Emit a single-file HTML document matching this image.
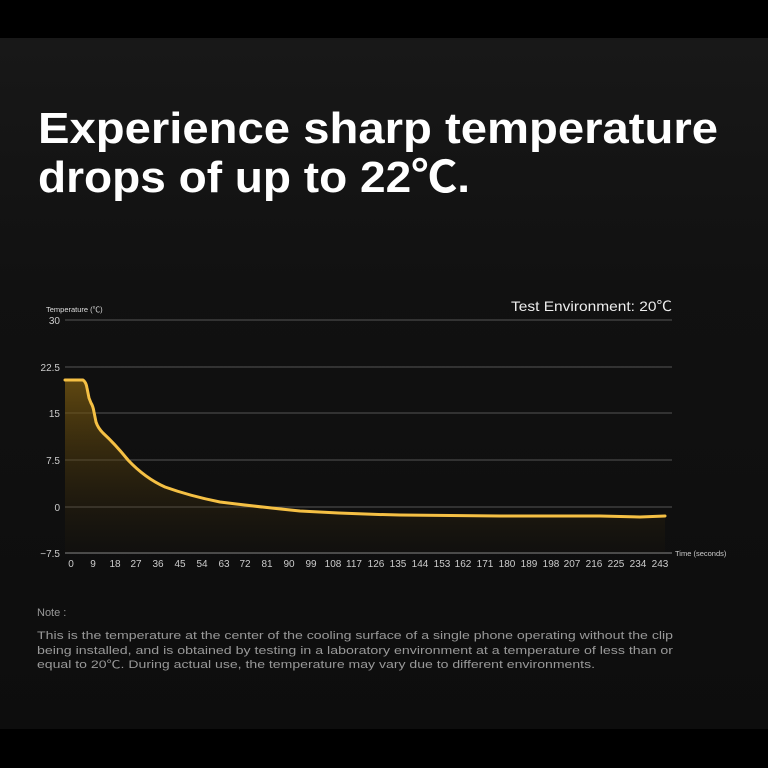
<!DOCTYPE html>
<html><head><meta charset="utf-8"><style>
html,body{margin:0;padding:0;background:#000}
svg{display:block}
text{font-family:"Liberation Sans","Noto Sans CJK SC",sans-serif}
</style></head><body>
<svg width="768" height="768" viewBox="0 0 768 768" xmlns="http://www.w3.org/2000/svg">
<defs>
<linearGradient id="bg" x1="0" y1="0" x2="0" y2="1">
<stop offset="0" stop-color="#181818"/><stop offset="0.35" stop-color="#111"/><stop offset="1" stop-color="#0d0d0d"/>
</linearGradient>
<linearGradient id="fill" x1="0" y1="0" x2="0" y2="1">
<stop offset="0" stop-color="#7a5a10" stop-opacity="0.75"/><stop offset="1" stop-color="#3a2a08" stop-opacity="0.05"/>
</linearGradient>
</defs>
<rect width="768" height="768" fill="#000"/>
<rect y="38" width="768" height="691" fill="url(#bg)"/>
<text x="38" y="143" font-size="44" font-weight="bold" fill="#fff" textLength="680" lengthAdjust="spacingAndGlyphs">Experience sharp temperature</text>
<text x="38" y="192" font-size="44" font-weight="bold" fill="#fff" textLength="432" lengthAdjust="spacingAndGlyphs">drops of up to 22℃.</text>
<text x="511" y="311" font-size="14" fill="#eee" textLength="161" lengthAdjust="spacingAndGlyphs">Test Environment:  20℃</text>
<text x="46" y="312" font-size="7.5" fill="#ddd">Temperature (℃)</text>
<g stroke="#555" stroke-width="1">
<line x1="65" y1="320" x2="672" y2="320"/><line x1="65" y1="367" x2="672" y2="367"/>
<line x1="65" y1="413" x2="672" y2="413"/><line x1="65" y1="460" x2="672" y2="460"/>
<line x1="65" y1="507" x2="672" y2="507"/><line x1="65" y1="553" x2="672" y2="553" stroke="#888"/>
</g>
<g font-size="10" fill="#ccc" text-anchor="end">
<text x="60" y="324">30</text><text x="60" y="371">22.5</text><text x="60" y="417">15</text>
<text x="60" y="464">7.5</text><text x="60" y="511">0</text><text x="60" y="557">−7.5</text>
</g>
<text x="675" y="556" font-size="7.5" fill="#ccc">Time (seconds)</text>
<g font-size="10" fill="#ccc" text-anchor="middle">
<text x="71" y="567">0</text><text x="93" y="567">9</text><text x="115" y="567">18</text><text x="136" y="567">27</text><text x="158" y="567">36</text><text x="180" y="567">45</text><text x="202" y="567">54</text><text x="224" y="567">63</text><text x="245" y="567">72</text><text x="267" y="567">81</text><text x="289" y="567">90</text><text x="311" y="567">99</text><text x="333" y="567">108</text><text x="354" y="567">117</text><text x="376" y="567">126</text><text x="398" y="567">135</text><text x="420" y="567">144</text><text x="442" y="567">153</text><text x="463" y="567">162</text><text x="485" y="567">171</text><text x="507" y="567">180</text><text x="529" y="567">189</text><text x="551" y="567">198</text><text x="572" y="567">207</text><text x="594" y="567">216</text><text x="616" y="567">225</text><text x="638" y="567">234</text><text x="660" y="567">243</text>
</g>
<path d="M65,380 L83,380 Q86,382 87,388 L89,398 L91,403 Q93,406 94,412 L96,422 Q98,428 103,433 Q115,444 128,460 Q145,478 165,487 Q190,496 220,502 Q260,507 300,511 Q350,514 400,515 L500,516 L600,516 L640,517 L665,516 L665,553 L65,553 Z" fill="url(#fill)"/>
<path d="M65,380 L83,380 Q86,382 87,388 L89,398 L91,403 Q93,406 94,412 L96,422 Q98,428 103,433 Q115,444 128,460 Q145,478 165,487 Q190,496 220,502 Q260,507 300,511 Q350,514 400,515 L500,516 L600,516 L640,517 L665,516" fill="none" stroke="#f5c044" stroke-width="3" stroke-linejoin="round" stroke-linecap="round"/>
<text x="37" y="616" font-size="11" fill="#999">Note :</text>
<g font-size="11" fill="#999">
<text x="37" y="639" textLength="636" lengthAdjust="spacingAndGlyphs">This is the temperature at the center of the cooling surface of a single phone operating without the clip</text>
<text x="37" y="654" textLength="636" lengthAdjust="spacingAndGlyphs">being installed, and is obtained by testing in a laboratory environment at a temperature of less than or</text>
<text x="37" y="668" textLength="558" lengthAdjust="spacingAndGlyphs">equal to 20℃. During actual use, the temperature may vary due to different environments.</text>
</g>
</svg>
</body></html>
